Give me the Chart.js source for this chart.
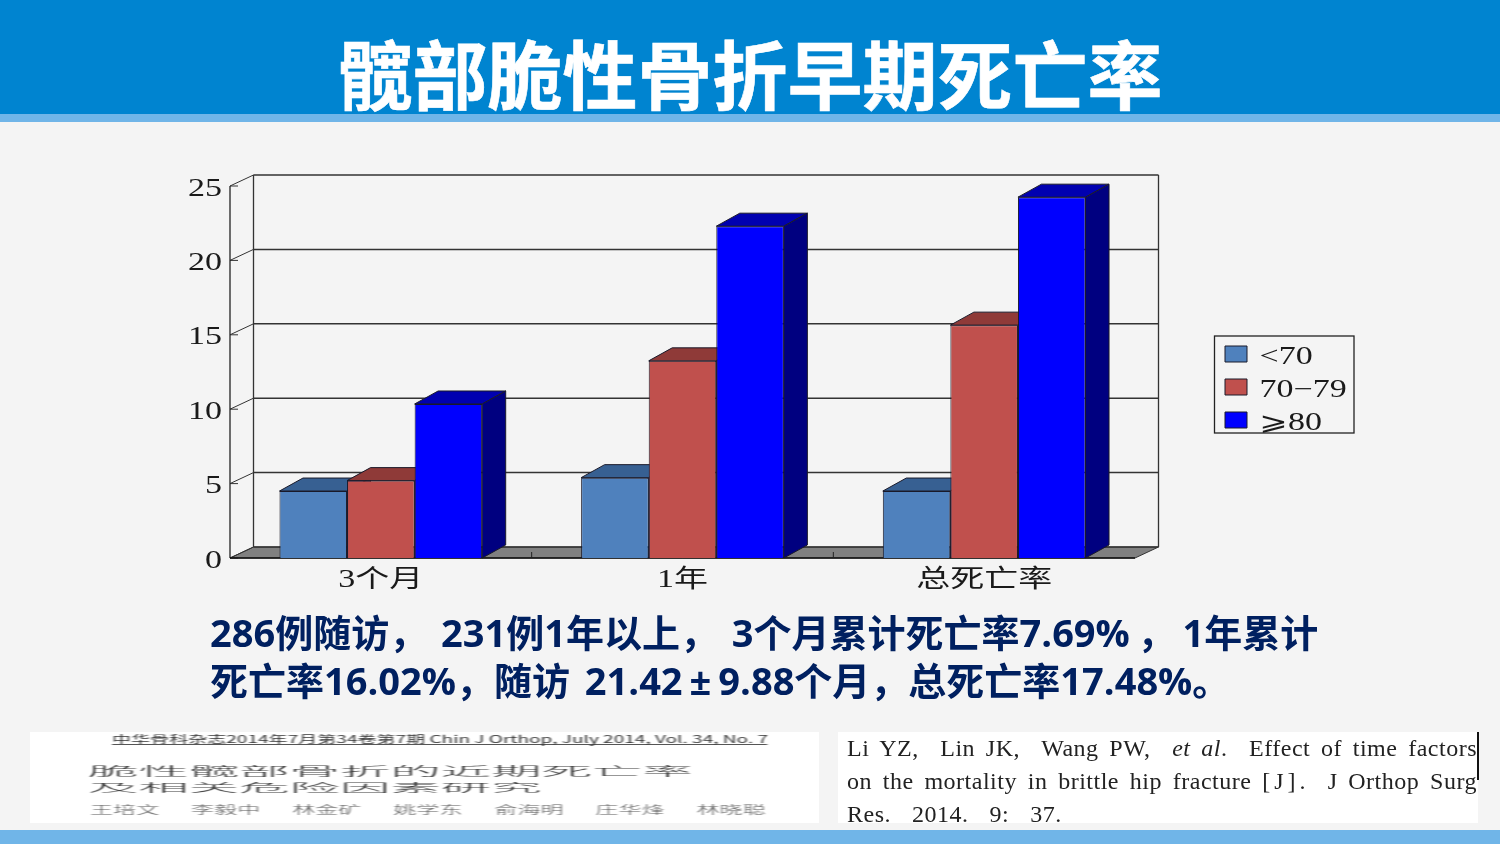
<!DOCTYPE html>
<html lang="zh"><head><meta charset="utf-8">
<script src="https://cdn.jsdelivr.net/npm/chart.js@4"></script>
<style>
html,body{margin:0;padding:0;width:1500px;height:844px;overflow:hidden;background:#f4f4f4}
.abs{position:absolute;white-space:nowrap}
#c{position:absolute;left:0;top:0}
.cjk{font-family:"Noto Sans CJK SC",sans-serif}
#title{left:0;width:1500px;top:22px;text-align:center;color:#fff;font-size:75px;line-height:100px;font-weight:700;-webkit-text-stroke:.6px #fff}
.body{left:210px;color:#002060;font-weight:700;font-size:38px;line-height:48px;font-family:"Open Sans","Noto Sans CJK SC",sans-serif}
.st{transform-origin:0 0;color:#333;filter:blur(.5px)}
.ref{left:847px;font-family:"Liberation Serif",serif;font-size:24px;line-height:33px;color:#222;letter-spacing:.5px}
.just{width:630px;white-space:normal;text-align:justify;text-align-last:justify}
</style></head><body>
<div class="abs" style="left:0;top:0;width:1500px;height:114px;background:#0084d0"></div>
<div class="abs" style="left:0;top:114px;width:1500px;height:8px;background:#70b5e8"></div>
<div class="abs" style="left:0;top:830px;width:1500px;height:14px;background:#70b5e8"></div>
<div class="abs cjk" id="title">髋部脆性骨折早期死亡率</div>
<canvas id="c" width="1500" height="844"></canvas>
<div class="abs body" style="top:608px;word-spacing:4px">286例随访， 231例1年以上， 3个月累计死亡率7.69%<span style="word-spacing:-2.5px"> ， </span>1年累计</div>
<div class="abs body" style="top:656px;word-spacing:5px">死亡率16.02%，随访 21.42<span style="padding:0 7px">±</span>9.88个月，总死亡率17.48%。</div>
<div class="abs" style="left:30px;top:732px;width:789px;height:91px;background:#fff"></div>
<div class="abs st cjk" style="left:112px;top:734px;font-size:10px;line-height:10px;border-bottom:1px solid #555;transform:scaleX(1.905)">中华骨科杂志2014年7月第34卷第7期 Chin J Orthop, July 2014, Vol. 34, No. 7</div>
<div class="abs st cjk" style="left:88px;top:765px;font-size:24px;line-height:24px;font-weight:300;transform:scale(2.1,.52)">脆性髋部骨折的近期死亡率</div>
<div class="abs st cjk" style="left:88px;top:781px;font-size:24px;line-height:24px;font-weight:300;transform:scale(2.1,.48)">及相关危险因素研究</div>
<div class="abs st cjk" style="left:90px;top:803px;font-size:11px;line-height:12px;word-spacing:12.7px;font-weight:300;color:#555;transform:scaleX(2.1)">王培文 李毅中 林金矿 姚学东 俞海明 庄华烽 林晓聪</div>
<div class="abs" style="left:838px;top:732px;width:640px;height:91px;background:#fff"></div>
<div class="abs ref just" style="top:732px">Li YZ,&nbsp; Lin JK,&nbsp; Wang PW,&nbsp; <i>et al</i>.&nbsp; Effect of time factors</div>
<div class="abs ref just" style="top:765px">on the mortality in brittle hip fracture <span style="letter-spacing:4px">[J]</span>.&nbsp; J Orthop Surg</div>
<div class="abs ref" style="top:798px;word-spacing:4px">Res.&nbsp; 2014.&nbsp; 9:&nbsp; 37.</div>
<div class="abs" style="left:1477px;top:732px;width:1.5px;height:48px;background:#111"></div>
<script>
const categories = ["3个月", "1年", "总死亡率"];
const seriesNames = ["<70", "70−79", "⩾80"];
const under70 = [4.5, 5.4, 4.5];
const from70to79 = [5.2, 13.25, 15.65];
const over80 = [10.35, 22.3, 24.25];
const yTicks = [0, 5, 10, 15, 20, 25];
const frontColors = ["#4f81bd", "#c0504d", "#0000ff"];
const topColors = ["#376092", "#8f3a38", "#0000b0"];
const sideColors = ["#2d4f78", "#6e2c2a", "#000080"];
const depthX = 23.5, wallRise = 11, barRise = 13, textStretch = 1.36;

function poly(ctx, pts, fill, stroke) {
  ctx.beginPath();
  pts.forEach((p, i) => i ? ctx.lineTo(p[0], p[1]) : ctx.moveTo(p[0], p[1]));
  ctx.closePath();
  if (fill) { ctx.fillStyle = fill; ctx.fill(); }
  if (stroke) { ctx.strokeStyle = stroke; ctx.lineWidth = 1; ctx.stroke(); }
}
function seg(ctx, x1, y1, x2, y2, color, w) {
  ctx.beginPath(); ctx.moveTo(x1, y1); ctx.lineTo(x2, y2);
  ctx.strokeStyle = color; ctx.lineWidth = w || 1; ctx.stroke();
}
const bars3d = {
  id: "bars3d",
  beforeDraw(chart) {
    // the reference's labels are horizontally stretched: anchor stays put, glyphs widen
    const ctx = chart.ctx;
    if (ctx.__stretched) return;
    ctx.__stretched = true;
    const fill = ctx.fillText.bind(ctx);
    ctx.fillText = (t, x, y) => {
      ctx.save(); ctx.translate(x, y + 3); ctx.scale(textStretch, 1);
      fill(t, 0, 0); ctx.restore();
    };
  },
  afterLayout(chart) {
    const l = chart.legend;
    l.left = 1217; l.top = 333.5; l.right = 1360; l.bottom = 480;
    l.width = 143; l.height = 146;
  },
  beforeDatasetsDraw(chart) {
    const { ctx, chartArea: a, scales: { x, y } } = chart;
    const wall = "#333";
    const y0 = y.getPixelForValue(0), yTop = y.getPixelForValue(25);
    ctx.save();
    poly(ctx, [[a.left, y0], [a.left + depthX, y0 - wallRise], [a.right + depthX, y0 - wallRise], [a.right, y0]], "#808080", wall);
    yTicks.forEach(v => {
      const py = y.getPixelForValue(v);
      seg(ctx, a.left + depthX, py - wallRise, a.right + depthX, py - wallRise, wall, 1.5);
      seg(ctx, a.left, py, a.left + depthX, py - wallRise, wall, 1);
      seg(ctx, a.left, py, a.left + 8, py, wall, 1);
    });
    seg(ctx, a.left, yTop, a.left, y0, "#222", 1.3);
    seg(ctx, a.left + depthX, yTop - wallRise, a.left + depthX, y0 - wallRise, wall, 1.3);
    seg(ctx, a.right + depthX, yTop - wallRise, a.right + depthX, y0 - wallRise, wall, 1.3);
    seg(ctx, a.left, y0, a.right, y0, "#111", 1.4);
    categories.forEach((c, i) => {
      if (i === 0) return;
      const tx = (x.getPixelForValue(i - 1) + x.getPixelForValue(i)) / 2;
      seg(ctx, tx, y0, tx, y0 - 6, "#222", 1);
    });
    ctx.strokeStyle = "#222"; ctx.lineWidth = 1.3;
    ctx.strokeRect(1214.5, 336, 139.5, 97);
    ctx.restore();
  },
  // default order paints the last series first; the 3D look needs left to right
  beforeDatasetDraw() { return false; },
  afterDatasetsDraw(chart) {
    const ctx = chart.ctx;
    [0, 1, 2].forEach(i => {
      const meta = chart.getDatasetMeta(i);
      meta.controller.draw();
      ctx.save();
      meta.data.forEach(bar => {
        const { x, y, base, width } = bar.getProps(["x", "y", "base", "width"], true);
        const l = x - width / 2, r = x + width / 2;
        poly(ctx, [[l, y], [l + depthX, y - barRise], [r + depthX, y - barRise], [r, y]], topColors[i], "#1a1a2a");
        poly(ctx, [[r, y], [r + depthX, y - barRise], [r + depthX, base - barRise], [r, base]], sideColors[i], "#1a1a2a");
      });
      ctx.restore();
    });
  }
};
const serif = '"Liberation Serif","Noto Sans CJK SC","DejaVu Sans",serif';
new Chart(document.getElementById("c"), {
  type: "bar",
  data: {
    labels: categories,
    datasets: [under70, from70to79, over80].map((d, i) => ({
      label: seriesNames[i], data: d,
      backgroundColor: frontColors[i], borderColor: "#1a1a2a", borderWidth: 1,
      categoryPercentage: 0.672, barPercentage: 1
    }))
  },
  options: {
    responsive: false, animation: false,
    layout: { padding: { left: 0, top: 186, right: 365, bottom: 246 } },
    plugins: {
      title: { display: false }, tooltip: { enabled: false },
      legend: {
        display: true, position: "chartArea", align: "start",
        labels: { boxWidth: 22, boxHeight: 16, padding: 8, color: "#1a1a1a", font: { family: serif, size: 25 } }
      }
    },
    scales: {
      x: {
        grid: { display: false }, border: { display: false },
        afterFit(s) { s.height = 40; },
        ticks: { color: "#1a1a1a", padding: -4, maxRotation: 0, font: { family: serif, size: 25 } }
      },
      y: {
        min: 0, max: 25, grid: { display: false }, border: { display: false },
        afterFit(s) { s.width = 230; },
        afterBuildTicks(s) { s.ticks = yTicks.map(v => ({ value: v })); },
        ticks: { color: "#1a1a1a", padding: 0, font: { family: serif, size: 25 } }
      }
    }
  },
  plugins: [bars3d]
});
</script>
</body></html>
